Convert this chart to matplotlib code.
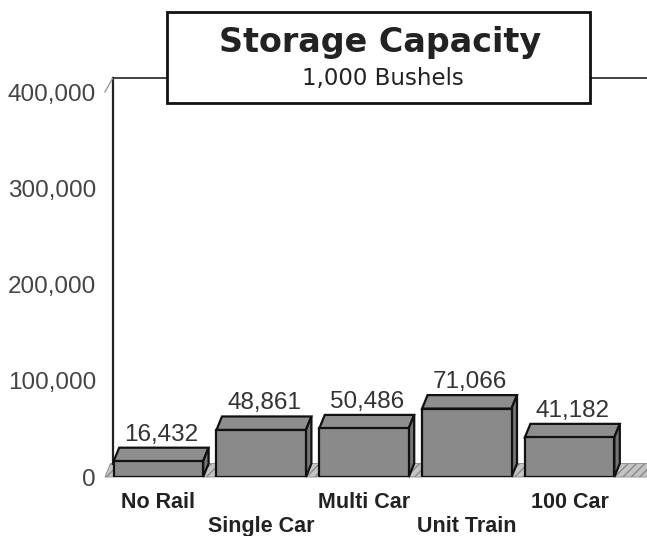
import numpy as np
import matplotlib
matplotlib.use("Agg")
import matplotlib.pyplot as plt
from matplotlib.patches import Polygon, Rectangle

# data
categories = ["No Rail", "Single Car", "Multi Car", "Unit Train", "100 Car"]
capacity = [16432, 48861, 50486, 71066, 41182]
yticks = [0, 100000, 200000, 300000, 400000]

W, H = 647, 536
fig = plt.figure(figsize=(W / 100, H / 100), dpi=100)
ax = fig.add_axes([107 / W, 59 / H, 514 / W, 385 / H])
ax.set_xlim(-0.5, 4.5)
ax.set_ylim(0, 400000)
for s in ax.spines.values():
    s.set_visible(False)
ax.patch.set_alpha(0)

# depth offset of the 3D look, in pixels -> data units
fig.canvas.draw()
inv = ax.transData.inverted()
p0 = ax.transData.transform((0, 0))
ddx, ddy = inv.transform(p0 + np.array([5.5, 13.5])) - np.array([0, 0])

x = np.arange(len(categories))
bw = 0.87
front = "#8a8a8a"
top_c = "#8e8e8e"
side_c = "#747474"

# floor
xmin, xmax = -0.52, 5.5
floor = Polygon([(xmin, 0), (xmax, 0), (xmax + ddx, ddy), (xmin + ddx, ddy)],
                closed=True, facecolor="#c4c4c4", edgecolor="#8a8a8a",
                hatch="////", lw=0.6, clip_on=False, zorder=1)
ax.add_patch(floor)

# back wall
bx = -0.5 + ddx
ax.plot([bx, bx], [ddy, 400000 + ddy], color="#222", lw=1.6, clip_on=False, zorder=1)
ax.plot([bx, 6], [400000 + ddy, 400000 + ddy], color="#222", lw=1.2, clip_on=False, zorder=1)
ax.plot([-0.52, bx], [400000, 400000 + ddy], color="#999", lw=1.0, clip_on=False, zorder=1)

# bars
ax.bar(x, capacity, width=bw, color=front, edgecolor="#111", linewidth=1.6, zorder=3)
for xi, v in zip(x, capacity):
    l, r = xi - bw / 2, xi + bw / 2
    ax.add_patch(Polygon([(l, v), (r, v), (r + ddx, v + ddy), (l + ddx, v + ddy)],
                         closed=True, facecolor=top_c, edgecolor="#111", lw=1.6,
                         clip_on=False, zorder=2))
    ax.add_patch(Polygon([(r, 0), (r + ddx, ddy), (r + ddx, v + ddy), (r, v)],
                         closed=True, facecolor=side_c, edgecolor="#111", lw=1.6,
                         clip_on=False, zorder=2))
    ax.annotate(f"{v:,}", (xi + ddx / 2, v + ddy), xytext=(0, 1.5),
                textcoords="offset points", ha="center", va="bottom",
                fontsize=17.5, family="Liberation Sans", color="#333")

# axes ticks
ax.set_yticks(yticks)
ax.set_yticklabels([f"{t:,}" for t in yticks], family="Liberation Sans",
                   fontsize=17.5, color="#444")
ax.tick_params(axis="y", length=0, pad=8)
ax.set_xticks(x)
ax.set_xticklabels([c if i % 2 == 0 else "\n" + c for i, c in enumerate(categories)],
                   family="Liberation Sans", fontsize=15.5, fontweight="bold",
                   color="#222", linespacing=1.17)
ax.tick_params(axis="x", length=0, pad=11)

# title box
fig.add_artist(Rectangle((167 / W, 1 - 103 / H), 423 / W, 91 / H,
                         transform=fig.transFigure, facecolor="white",
                         edgecolor="#111", lw=2, zorder=5))
fig.text(380 / W, 1 - 42 / H, "Storage Capacity", ha="center", va="center",
         fontsize=24, fontweight="bold", family="DejaVu Sans", color="#222", zorder=6)
fig.text(383 / W, 1 - 79 / H, "1,000 Bushels", ha="center", va="center",
         fontsize=16.5, family="DejaVu Sans", color="#222", zorder=6)

fig.savefig("out.png", dpi=100)
